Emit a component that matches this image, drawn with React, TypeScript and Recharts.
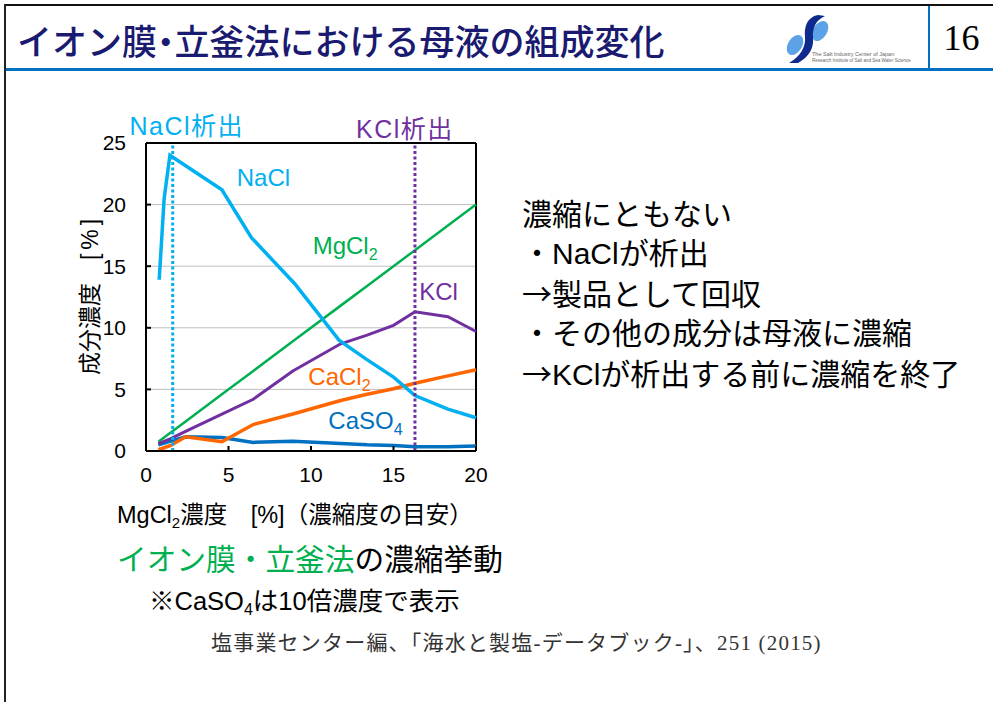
import React from 'react';
import { LineChart, Line, XAxis, YAxis, CartesianGrid, ReferenceLine, ReferenceDot } from 'recharts';

const xTicks = [0, 5, 10, 15, 20];
const yTicks = [0, 5, 10, 15, 20, 25];

// NaCl has its own sampling near the start
const naclX = [0.8, 1.1, 1.45, 1.9, 4.6, 6.4, 9.0, 11.7, 13.3, 15.0, 16.3, 18.3, 20.0];
const naclY = [13.9, 20.5, 24.0, 23.6, 21.2, 17.3, 13.6, 9.0, 7.5, 6.0, 4.5, 3.4, 2.7];

const sampleX = [0.75, 1.5, 2.4, 4.6, 6.5, 8.9, 11.8, 13.4, 15.0, 16.3, 18.3, 20.0];
const mgcl2Y = [0.75, 1.5, 2.4, 4.6, 6.5, 8.9, 11.8, 13.4, 15.0, 16.3, 18.3, 20.0];
const kclY = [0.6, 1.0, 1.6, 3.0, 4.2, 6.5, 8.7, 9.4, 10.2, 11.3, 10.9, 9.7];
const cacl2Y = [0.1, 0.45, 1.15, 0.75, 2.15, 3.0, 4.1, 4.6, 5.05, 5.5, 6.1, 6.6];
const caso4Y = [0.5, 0.8, 1.15, 1.1, 0.7, 0.8, 0.6, 0.5, 0.45, 0.35, 0.35, 0.4];

const naclStart = 1.62;
const kclStart = 16.3;

const NACL = '#00B0F0';
const MGCL2 = '#00B050';
const KCL = '#7030A0';
const CACL2 = '#FF6600';
const CASO4 = '#0070C0';

const LATIN = "'Liberation Sans', Arial, sans-serif";
const JP = "'Liberation Sans', 'Noto Sans CJK JP', sans-serif";
const CJK = "'Noto Sans CJK JP', sans-serif";

const toPoints = (xs: number[], ys: number[]) => xs.map((x, i) => ({ x, y: ys[i] }));

const TopLabel = (props: any) => {
  const { viewBox, text, color, dx = 0, dy = 0 } = props;
  if (!viewBox) return null;
  return (
    <text
      x={viewBox.x + dx}
      y={viewBox.y + dy}
      fill={color}
      fontSize={25}
      letterSpacing={1.5}
      textAnchor="middle"
      fontFamily={JP}
    >
      {text}
    </text>
  );
};

const SeriesLabel = (props: any) => {
  const { viewBox, text, sub, color } = props;
  if (!viewBox) return null;
  const x = viewBox.x + (viewBox.width || 0) / 2;
  const y = viewBox.y + (viewBox.height || 0) / 2;
  return (
    <text x={x} y={y + 8.5} fill={color} fontSize={24} fontFamily={LATIN}>
      {text}
      {sub ? (
        <tspan fontSize={16} dy={6}>
          {sub}
        </tspan>
      ) : null}
    </text>
  );
};

const Logo = () => (
  <svg width={70} height={56} style={{ position: 'absolute', left: 770, top: 12 }}>
    <ellipse cx={50} cy={19} rx={7} ry={11} transform="rotate(32 50 19)" fill="#5BA3E6" />
    <ellipse cx={25} cy={33} rx={7} ry={11} transform="rotate(32 25 33)" fill="#5BA3E6" />
    <path
      d="M48 3 C37 5 34 15 35 25 C36 35 30 45 19 51 L28 51 C39 45 44 36 43 26 C42 16 46 8 55 4 Z"
      fill="#0D2A8C"
    />
  </svg>
);

const App = () => {
  return (
    <div
      style={{
        position: 'absolute',
        left: 0,
        top: 0,
        width: 993,
        height: 702,
        overflow: 'hidden',
        background: '#fff',
      }}
    >
      {/* slide frame */}
      <div style={{ position: 'absolute', left: 4, top: 4, width: 989, height: 2, background: '#111' }} />
      <div style={{ position: 'absolute', left: 4, top: 4, width: 2, height: 698, background: '#222' }} />
      <div style={{ position: 'absolute', left: 6, top: 68, width: 987, height: 3, background: '#0070C0' }} />
      <div style={{ position: 'absolute', left: 928, top: 6, width: 2, height: 62, background: '#0070C0' }} />

      <div
        style={{
          position: 'absolute',
          left: 17,
          top: 18,
          fontSize: 35,
          lineHeight: '44px',
          fontWeight: 500,
          color: '#1a1a70',
          fontFamily: CJK,
          whiteSpace: 'nowrap',
          fontFeatureSettings: '"halt"',
        }}
      >
        <span style={{ fontFeatureSettings: 'normal' }}>イオン膜</span>・
        <span style={{ fontFeatureSettings: 'normal' }}>立釜法における母液の組成変化</span>
      </div>
      <Logo />
      <div style={{ position: 'absolute', left: 812, top: 51, fontSize: 5.5, color: '#666', fontFamily: LATIN, whiteSpace: 'nowrap' }}>
        The Salt Industry Center of Japan
      </div>
      <div style={{ position: 'absolute', left: 812, top: 58, fontSize: 4.5, color: '#666', fontFamily: LATIN, whiteSpace: 'nowrap' }}>
        Research Institute of Salt and Sea Water Science
      </div>
      <div
        style={{
          position: 'absolute',
          left: 930,
          width: 63,
          top: 16,
          textAlign: 'center',
          fontSize: 36,
          lineHeight: '44px',
          fontFamily: "'Liberation Serif', serif",
          color: '#000',
        }}
      >
        16
      </div>

      {/* chart */}
      <div style={{ position: 'absolute', left: 60, top: 100 }}>
        <LineChart width={440} height={400} margin={{ top: 43, right: 24, left: 16, bottom: 19 }}>
          <CartesianGrid horizontal vertical={false} stroke="#BFBFBF" strokeWidth={1} />
          <XAxis
            dataKey="x"
            type="number"
            domain={[0, 20]}
            ticks={xTicks}
            height={30}
            axisLine={{ stroke: '#000', strokeWidth: 2 }}
            tickLine={{ stroke: '#000', strokeWidth: 2 }}
            tickSize={-5}
            tickMargin={21}
            tick={{ fill: '#000', fontSize: 21, fontFamily: LATIN }}
          />
          <YAxis
            type="number"
            domain={[0, 25]}
            ticks={yTicks}
            width={70}
            axisLine={{ stroke: '#000', strokeWidth: 2 }}
            tickLine={{ stroke: '#000', strokeWidth: 2 }}
            tickSize={-5}
            tickMargin={25}
            tick={{ fill: '#000', fontSize: 21, fontFamily: LATIN }}
          />
          <ReferenceLine y={25} stroke="#000" strokeWidth={2} />
          <ReferenceLine x={20} stroke="#000" strokeWidth={2} />

          <Line data={toPoints(sampleX, mgcl2Y)} dataKey="y" type="linear" stroke={MGCL2} strokeWidth={2.5} dot={false} isAnimationActive={false} />
          <Line data={toPoints(sampleX, caso4Y)} dataKey="y" type="linear" stroke={CASO4} strokeWidth={3.5} dot={false} isAnimationActive={false} />
          <Line data={toPoints(sampleX, cacl2Y)} dataKey="y" type="linear" stroke={CACL2} strokeWidth={3.5} dot={false} isAnimationActive={false} />
          <Line data={toPoints(sampleX, kclY)} dataKey="y" type="linear" stroke={KCL} strokeWidth={3} dot={false} isAnimationActive={false} />
          <Line data={toPoints(naclX, naclY)} dataKey="y" type="linear" stroke={NACL} strokeWidth={3.5} dot={false} isAnimationActive={false} />

          <ReferenceLine
            x={naclStart}
            stroke={NACL}
            strokeWidth={3}
            strokeDasharray="3 2.5"
            label={<TopLabel text="NaCl析出" color={NACL} dx={14} dy={-8} />}
          />
          <ReferenceLine
            x={kclStart}
            stroke={KCL}
            strokeWidth={3}
            strokeDasharray="3 2.5"
            label={<TopLabel text="KCl析出" color={KCL} dx={-10} dy={-5} />}
          />

          <ReferenceDot x={5.5} y={22.24} r={0} fill="none" stroke="none" label={<SeriesLabel text="NaCl" color={NACL} />} />
          <ReferenceDot x={10.1} y={16.72} r={0} fill="none" stroke="none" label={<SeriesLabel text="MgCl" sub="2" color={MGCL2} />} />
          <ReferenceDot x={16.56} y={12.96} r={0} fill="none" stroke="none" label={<SeriesLabel text="KCl" color={KCL} />} />
          <ReferenceDot x={9.84} y={6.03} r={0} fill="none" stroke="none" label={<SeriesLabel text="CaCl" sub="2" color={CACL2} />} />
          <ReferenceDot x={11.05} y={2.46} r={0} fill="none" stroke="none" label={<SeriesLabel text="CaSO" sub="4" color={CASO4} />} />
        </LineChart>
      </div>

      {/* y-axis title */}
      <div
        style={{
          position: 'absolute',
          left: 88,
          top: 295,
          transform: 'translate(-50%, -50%) rotate(-90deg)',
          fontSize: 23,
          fontFamily: JP,
          whiteSpace: 'nowrap',
          color: '#000',
        }}
      >
        成分濃度　<span style={{ letterSpacing: 4 }}>[%]</span>
      </div>

      {/* x-axis title */}
      <div style={{ position: 'absolute', left: 117, top: 500, fontSize: 23.5, lineHeight: '30px', fontFamily: JP, whiteSpace: 'nowrap', color: '#000' }}>
        MgCl<span style={{ fontSize: 15, verticalAlign: -5 }}>2</span>濃度　[%]（濃縮度の目安）
      </div>

      <div style={{ position: 'absolute', left: 117, top: 540, fontSize: 29.7, lineHeight: '40px', fontFamily: JP, whiteSpace: 'nowrap', color: '#000' }}>
        <span style={{ color: MGCL2 }}>イオン膜・立釜法</span>の濃縮挙動
      </div>

      <div style={{ position: 'absolute', left: 149, top: 584, fontSize: 25.5, lineHeight: '34px', fontFamily: JP, whiteSpace: 'nowrap', color: '#000' }}>
        ※CaSO<span style={{ fontSize: 16, verticalAlign: -5 }}>4</span>は10倍濃度で表示
      </div>

      <div
        style={{
          position: 'absolute',
          left: 211,
          top: 628,
          fontSize: 21,
          letterSpacing: 1.2,
          lineHeight: '30px',
          fontFamily: "'Liberation Serif', 'Noto Sans CJK JP', serif",
          whiteSpace: 'nowrap',
          color: '#333',
        }}
      >
        塩事業センター編、「海水と製塩-データブック-」、251 (2015)
      </div>

      {/* notes on the right */}
      <div
        style={{
          position: 'absolute',
          left: 522,
          top: 195,
          fontSize: 30,
          lineHeight: '39px',
          fontFamily: JP,
          whiteSpace: 'nowrap',
          color: '#000',
        }}
      >
        <div>濃縮にともない</div>
        <div>・NaClが析出</div>
        <div>
          <span style={{ fontFamily: CJK }}>→</span>製品として回収
        </div>
        <div>・その他の成分は母液に濃縮</div>
        <div>
          <span style={{ fontFamily: CJK }}>→</span>KClが析出する前に濃縮を終了
        </div>
      </div>
    </div>
  );
};

export default App;
